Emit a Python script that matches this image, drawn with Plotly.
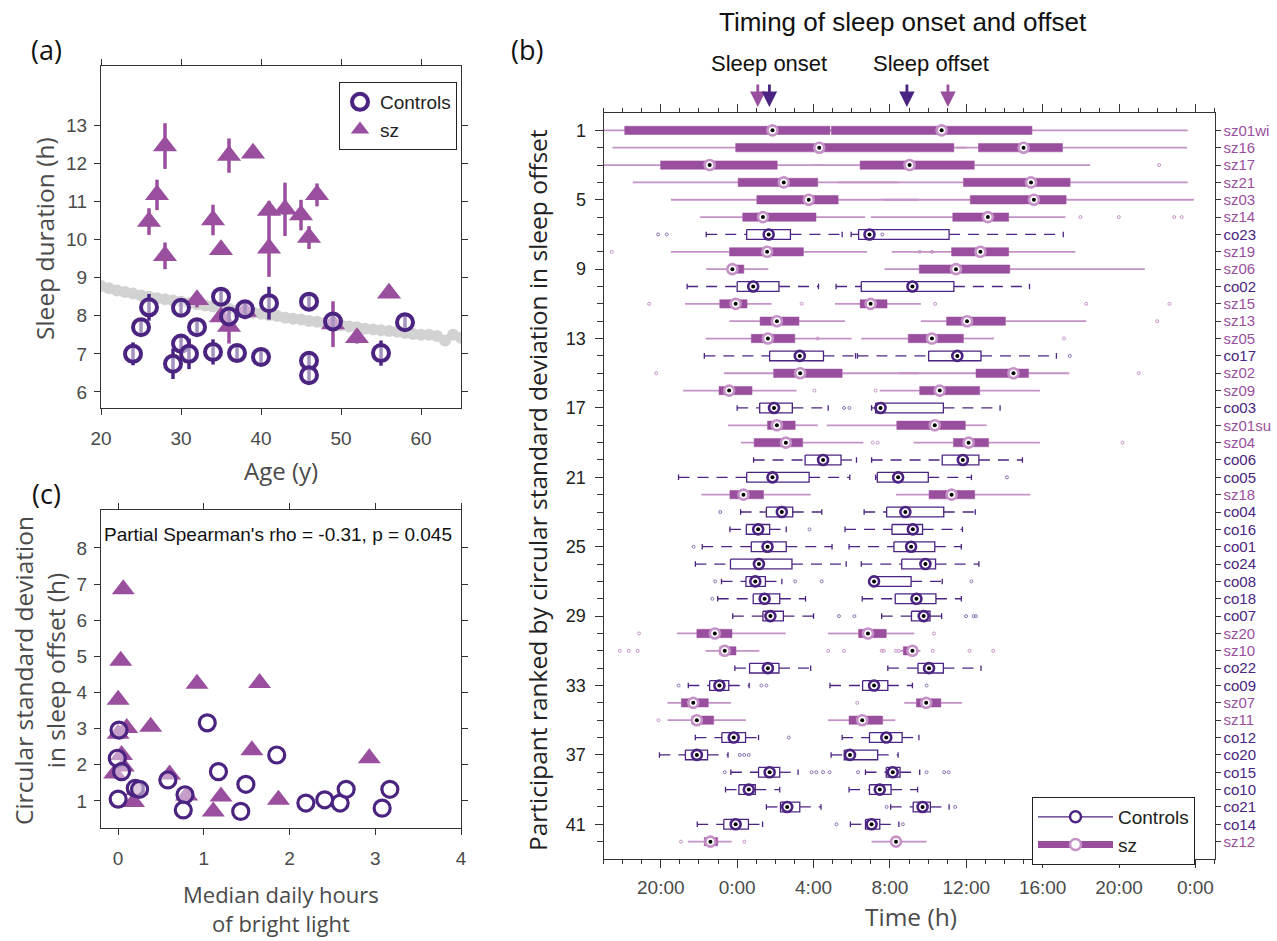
import plotly.graph_objects as go

W, H = 1277, 941
def fx(p): return p / W
def fy(p): return 1 - p / H

CO = '#4b2481'
CO_L = '#8a72b2'
SZ = '#9a4f9e'
SZ_L = '#c592c7'
GRAY = '#d2d2d2'
AX = '#333333'
TXT = '#4a4a4a'
TICKFONT = 'Liberation Sans, Arial, sans-serif'
TITLEFONT = 'Open Sans, Liberation Sans, sans-serif'

# ---------------- Panel (a): sleep duration vs age ----------------
ref_age = list(range(20, 66))
ref_sleep = [8.78, 8.72, 8.66, 8.62, 8.58, 8.53, 8.50, 8.46, 8.43, 8.40,
             8.37, 8.33, 8.30, 8.27, 8.24, 8.20, 8.18, 8.14, 8.10, 8.08,
             8.05, 8.02, 7.99, 7.95, 7.92, 7.90, 7.86, 7.84, 7.80, 7.78,
             7.75, 7.72, 7.70, 7.66, 7.64, 7.62, 7.60, 7.58, 7.55, 7.52,
             7.50, 7.50, 7.47, 7.35, 7.50, 7.42]

co_age = [24, 25, 26, 30, 29, 30, 31, 32, 34, 35, 36, 37, 38, 40, 41, 46, 46, 46, 49, 55, 58]
co_sleep = [7.00, 7.70, 8.22, 8.21, 6.74, 7.27, 7.00, 7.70, 7.05, 8.50, 7.98, 7.02, 8.17,
            6.92, 8.33, 8.37, 6.82, 6.44, 7.85, 7.02, 7.83]
co_err = [0.30, 0.20, 0.35, 0.20, 0.40, 0.25, 0.40, 0.20, 0.33, 0.25, 0.25, 0.20, 0.20,
          0.20, 0.43, 0.20, 0.25, 0.25, 0.25, 0.33, 0.20]

sz_age = [28, 27, 26, 28, 32, 34, 35, 35, 36, 39, 38, 41, 41, 43, 45, 46, 47, 49, 52, 56, 36]
sz_sleep = [12.45, 11.17, 10.47, 9.57, 8.42, 10.51, 9.73, 7.97, 12.20, 12.26, 8.11, 10.76,
            9.77, 10.79, 10.64, 10.05, 11.17, 7.78, 7.42, 8.59, 7.72]
sz_err = [0.60, 0.40, 0.35, 0.35, 0.20, 0.40, 0.10, 0.10, 0.45, 0.10, 0.20, 0.25,
          0.75, 0.70, 0.40, 0.30, 0.30, 0.60, 0.15, 0.10, 0.45]

# ---------------- Panel (c): variability vs bright light ----------------
light_co = [0.01, -0.01, 0.04, 0.00, 0.20, 0.25, 0.58, 0.78, 0.76, 1.04, 1.17, 1.49, 1.43,
            1.85, 2.19, 2.41, 2.59, 2.66, 3.08, 3.17]
sdoff_co = [2.96, 2.18, 1.81, 1.05, 1.35, 1.32, 1.58, 1.17, 0.75, 3.16, 1.81, 1.46, 0.71,
            2.27, 0.94, 1.03, 0.94, 1.32, 0.80, 1.32]
light_sz = [0.06, 0.03, 0.00, 0.10, 0.38, 0.92, 1.65, 1.56, 2.93, 0.60, 0.80, 1.20, 1.11,
            1.87, 0.18, 0.00, 0.04, -0.04, 0.22, 0.06]
sdoff_sz = [6.86, 4.88, 3.80, 3.02, 3.05, 4.24, 4.26, 2.40, 2.18, 1.73, 1.15, 1.12, 0.71,
            1.03, 0.97, 2.86, 2.27, 1.76, 1.30, 1.95]

# ---------------- Panel (b): timing box plots (hours since previous midnight) ----------------
participants = ['sz01wi', 'sz16', 'sz17', 'sz21', 'sz03', 'sz14', 'co23', 'sz19', 'sz06', 'co02',
                'sz15', 'sz13', 'sz05', 'co17', 'sz02', 'sz09', 'co03', 'sz01su', 'sz04', 'co06',
                'co05', 'sz18', 'co04', 'co16', 'co01', 'co24', 'co08', 'co18', 'co07', 'sz20',
                'sz10', 'co22', 'co09', 'sz07', 'sz11', 'co12', 'co20', 'co15', 'co10', 'co21',
                'co14', 'sz12']

# [lower whisker, q1, median, q3, upper whisker]
onset_stats = [
    [16.5, 18.11, 25.85, 28.86, 29.5], [17.47, 23.92, 28.30, 35.35, 36.0],
    [16.8, 19.99, 22.56, 26.10, 28.5], [18.54, 24.05, 26.44, 28.22, 32.5],
    [20.53, 25.03, 27.75, 29.29, 33.5], [22.06, 24.29, 25.35, 28.13, 30.7],
    [22.38, 24.50, 25.65, 26.79, 29.5], [20.53, 23.60, 25.57, 27.47, 30.8],
    [22.38, 23.52, 23.75, 24.35, 25.63], [21.38, 24.00, 24.84, 26.19, 28.26],
    [21.27, 23.09, 23.92, 24.52, 25.8], [23.60, 25.20, 26.08, 27.24, 29.65],
    [22.34, 24.74, 25.61, 27.02, 30.0], [22.28, 25.70, 27.28, 28.52, 30.2],
    [23.30, 25.91, 27.30, 29.50, 33.5], [21.17, 23.05, 23.58, 24.78, 27.11],
    [24.00, 25.18, 25.93, 26.89, 28.77], [23.52, 25.59, 26.08, 27.04, 28.22],
    [24.20, 24.89, 26.55, 27.43, 30.61], [24.86, 27.56, 28.50, 29.44, 30.25],
    [20.93, 24.50, 25.85, 27.77, 29.9], [22.13, 23.62, 24.33, 25.38, 27.85],
    [24.18, 25.53, 26.34, 26.91, 28.43], [23.62, 24.48, 25.10, 25.70, 26.57],
    [22.17, 24.74, 25.59, 26.57, 28.97], [21.81, 23.65, 25.14, 26.87, 29.71],
    [23.18, 24.46, 24.95, 25.48, 26.34], [22.98, 24.84, 25.44, 26.23, 27.58],
    [23.77, 25.35, 25.74, 26.42, 28.0], [20.85, 21.89, 22.83, 23.73, 26.55],
    [22.34, 23.09, 23.35, 23.94, 25.16], [23.88, 24.65, 25.61, 26.19, 27.85],
    [21.44, 22.56, 23.07, 23.56, 24.63], [20.35, 21.08, 21.70, 22.49, 23.67],
    [20.35, 21.63, 21.89, 22.77, 24.46], [21.81, 23.20, 23.82, 24.44, 25.12],
    [19.93, 21.29, 21.89, 22.45, 23.52], [23.67, 25.12, 25.70, 26.23, 27.19],
    [23.39, 24.09, 24.61, 24.95, 26.23], [25.53, 26.27, 26.62, 27.28, 28.39],
    [21.91, 23.30, 23.92, 24.59, 25.33], [21.42, 22.28, 22.60, 22.98, 23.71],
]
offset_stats = [
    [27.0, 28.94, 34.71, 39.44, 47.6], [35.5, 36.64, 39.00, 41.04, 47.56],
    [28.0, 30.44, 33.03, 36.42, 42.49], [29.3, 35.85, 39.39, 41.44, 47.6],
    [31.7, 36.21, 39.54, 41.23, 47.92], [31.0, 35.29, 37.13, 38.22, 41.19],
    [29.97, 30.36, 30.93, 35.10, 41.08], [32.1, 35.23, 36.74, 38.22, 41.72],
    [31.72, 33.54, 35.46, 38.28, 45.35], [29.18, 30.50, 33.18, 35.35, 39.31],
    [29.12, 30.44, 30.99, 31.85, 33.62], [33.62, 34.97, 36.04, 38.05, 42.28],
    [30.5, 32.96, 34.20, 35.85, 37.45], [30.3, 34.03, 35.53, 36.77, 40.72],
    [32.5, 36.51, 38.47, 39.26, 41.4], [31.47, 33.56, 34.61, 36.70, 39.86],
    [31.04, 31.25, 31.51, 34.80, 37.77], [28.69, 32.36, 34.35, 35.95, 37.06],
    [33.24, 35.33, 36.12, 37.17, 39.86], [31.04, 34.74, 35.82, 36.66, 38.94],
    [31.25, 31.34, 32.43, 34.01, 36.27], [32.32, 34.05, 35.23, 36.44, 39.35],
    [30.65, 31.83, 32.81, 34.82, 36.47], [29.65, 32.11, 33.20, 33.71, 35.8],
    [29.86, 32.21, 33.11, 34.35, 35.74], [30.5, 32.62, 33.86, 34.39, 36.66],
    [31.1, 31.15, 31.17, 33.11, 34.74], [30.55, 32.28, 33.39, 34.41, 35.74],
    [31.57, 33.13, 33.77, 34.10, 34.71], [28.75, 30.36, 30.85, 31.81, 33.28],
    [32.55, 32.70, 33.18, 33.40, 33.6], [31.89, 33.47, 34.05, 34.80, 36.77],
    [28.86, 30.57, 31.17, 31.89, 33.18], [32.75, 33.39, 33.90, 34.67, 35.78],
    [28.75, 29.86, 30.55, 31.62, 32.28], [29.5, 30.93, 31.81, 32.64, 33.52],
    [28.92, 29.61, 29.91, 31.36, 32.43], [30.72, 31.81, 32.15, 32.53, 33.56],
    [29.86, 30.93, 31.47, 32.06, 33.45], [32.04, 33.22, 33.71, 34.12, 35.1],
    [29.93, 30.72, 31.04, 31.47, 32.47], [31.04, 32.11, 32.32, 32.53, 33.92],
]
outliers = [
    [], [], [46.1], [], [], [41.98, 43.99, 46.89, 47.28], [19.86, 20.31, 31.6],
    [17.43, 33.56, 34.2], [], [], [19.39, 27.38, 34.37, 42.28, 46.64], [46.0],
    [28.22, 41.12], [41.42], [19.76, 45.03], [28.05, 31.25], [29.6, 29.88], [],
    [31.1, 31.36, 44.18], [], [38.13], [], [23.11], [27.79], [21.72], [],
    [22.85, 27.04, 28.43, 36.27], [22.7], [29.33, 30.14, 35.99, 36.38, 36.5],
    [18.86, 34.31],
    [17.85, 18.32, 18.79, 28.77, 29.6, 31.57, 31.68, 32.32, 32.47, 34.24, 36.17, 37.41],
    [], [20.93, 25.27, 25.53, 33.92], [30.29], [19.88], [26.7], [24.14, 24.37, 24.61],
    [23.35, 27.9, 28.15, 28.5, 28.84, 30.33, 33.92, 34.84, 35.08], [],
    [31.83, 35.42], [29.2, 32.68], [21.06, 24.37],
]
mean_hours = [25.08, 25.69, 32.89, 35.04]
mean_groups = ['sz', 'co', 'co', 'sz']
time_tickvals = [20, 24, 28, 32, 36, 40, 44, 48]
time_ticktext = ['20:00', '0:00', '4:00', '8:00', '12:00', '16:00', '20:00', '0:00']
rank_ticks = list(range(1, 42, 4))

fig = go.Figure()

# ---- panel (a) traces
fig.add_trace(go.Scatter(x=ref_age, y=ref_sleep, mode='lines+markers', xaxis='x', yaxis='y',
                         line=dict(color=GRAY, width=7), marker=dict(color=GRAY, size=12),
                         showlegend=False, hoverinfo='skip'))
fig.add_trace(go.Scatter(x=sz_age, y=sz_sleep, mode='markers', xaxis='x', yaxis='y', name='sz',
                         error_y=dict(type='data', array=sz_err, color=SZ, thickness=3.5, width=0),
                         marker=dict(symbol='triangle-up', size=21, color=SZ),
                         legend='legend', legendrank=2))
fig.add_trace(go.Scatter(x=co_age, y=co_sleep, mode='markers', xaxis='x', yaxis='y', name='Controls',
                         error_y=dict(type='data', array=co_err, color=CO, thickness=3.5, width=0),
                         marker=dict(symbol='circle', size=16, color='rgba(255,255,255,0.5)',
                                     line=dict(color=CO, width=4)),
                         legend='legend', legendrank=1))

# ---- panel (c) traces
fig.add_trace(go.Scatter(x=light_sz, y=sdoff_sz, mode='markers', xaxis='x2', yaxis='y2',
                         marker=dict(symbol='triangle-up', size=20, color=SZ), showlegend=False))
fig.add_trace(go.Scatter(x=light_co, y=sdoff_co, mode='markers', xaxis='x2', yaxis='y2',
                         marker=dict(symbol='circle', size=16, color='rgba(255,255,255,0.45)',
                                     line=dict(color=CO, width=3.2)), showlegend=False))

# ---- panel (b) traces
cb_x, cb_y, cw_x, cw_y, cc_x, cc_y = [], [], [], [], [], []
sb_x, sb_y, sw_x, sw_y = [], [], [], []
mc_x, mc_y, ms_x, ms_y = [], [], [], []
oc_x, oc_y, os_x, os_y = [], [], [], []
for i, name in enumerate(participants):
    r = i + 1
    co = name.startswith('co')
    for st in (onset_stats[i], offset_stats[i]):
        lo, q1, md, q3, hi = st
        if co:
            hh = 0.28
            cb_x += [q1, q3, q3, q1, q1, None]
            cb_y += [r - hh, r - hh, r + hh, r + hh, r - hh, None]
            cw_x += [lo, q1, None, q3, hi, None]
            cw_y += [r, r, None, r, r, None]
            cc_x += [lo, lo, None, hi, hi, None]
            cc_y += [r - 0.16, r + 0.16, None, r - 0.16, r + 0.16, None]
            mc_x.append(md); mc_y.append(r)
        else:
            hh = 0.24
            sb_x += [q1, q3, q3, q1, q1, None]
            sb_y += [r - hh, r - hh, r + hh, r + hh, r - hh, None]
            sw_x += [lo, q1, None, q3, hi, None]
            sw_y += [r, r, None, r, r, None]
            ms_x.append(md); ms_y.append(r)
    for o in outliers[i]:
        if co:
            oc_x.append(o); oc_y.append(r)
        else:
            os_x.append(o); os_y.append(r)

bx = dict(xaxis='x3', yaxis='y3', showlegend=False, hoverinfo='skip')
fig.add_trace(go.Scatter(x=sw_x, y=sw_y, mode='lines', line=dict(color=SZ_L, width=1.8), **bx))
fig.add_trace(go.Scatter(x=sb_x, y=sb_y, mode='lines', fill='toself', fillcolor=SZ,
                         line=dict(color=SZ, width=0.5), **bx))
fig.add_trace(go.Scatter(x=cw_x, y=cw_y, mode='lines', line=dict(color=CO, width=1.3, dash='11px,8px'), **bx))
fig.add_trace(go.Scatter(x=cc_x, y=cc_y, mode='lines', line=dict(color=CO, width=1.3), **bx))
fig.add_trace(go.Scatter(x=cb_x, y=cb_y, mode='lines', fill='toself', fillcolor='white',
                         line=dict(color=CO, width=1.3), **bx))
fig.add_trace(go.Scatter(x=oc_x, y=oc_y, mode='markers',
                         marker=dict(symbol='circle-open', size=3, color=CO_L, line=dict(width=1)), **bx))
fig.add_trace(go.Scatter(x=os_x, y=os_y, mode='markers',
                         marker=dict(symbol='circle-open', size=3, color=SZ_L, line=dict(width=1)), **bx))
fig.add_trace(go.Scatter(x=ms_x, y=ms_y, mode='markers',
                         marker=dict(symbol='circle', size=10, color='white', line=dict(color=SZ_L, width=2.6)), **bx))
fig.add_trace(go.Scatter(x=mc_x, y=mc_y, mode='markers',
                         marker=dict(symbol='circle', size=10, color='white', line=dict(color=CO, width=2.6)), **bx))
fig.add_trace(go.Scatter(x=mc_x + ms_x, y=mc_y + ms_y, mode='markers',
                         marker=dict(symbol='circle', size=4, color='black'), **bx))
# right-side label axis anchor trace (invisible)
fig.add_trace(go.Scatter(x=[time_tickvals[0]], y=[1], mode='markers', xaxis='x3', yaxis='y4',
                         marker=dict(opacity=0), showlegend=False, hoverinfo='skip'))
# legend entries for panel (b)
fig.add_trace(go.Scatter(x=[None], y=[None], mode='lines+markers', xaxis='x3', yaxis='y3', name='Controls',
                         line=dict(color=CO, width=1.3),
                         marker=dict(symbol='circle', size=11, color='white', line=dict(color=CO, width=2.5)),
                         legend='legend2', legendrank=1))
fig.add_trace(go.Scatter(x=[None], y=[None], mode='lines+markers', xaxis='x3', yaxis='y3', name='sz',
                         line=dict(color=SZ, width=7),
                         marker=dict(symbol='circle', size=11, color='white', line=dict(color=SZ_L, width=2.5)),
                         legend='legend2', legendrank=2))

# ---- axes
base = dict(showline=True, linecolor=AX, linewidth=1, ticks='outside', tickcolor=AX, showgrid=False,
            zeroline=False, tickfont=dict(family=TICKFONT, size=19, color=TXT))
rank_colors = [(CO if n.startswith('co') else SZ) for n in participants]
right_text = ['<span style="color:%s">%s</span>' % (c, n) for c, n in zip(rank_colors, participants)]

fig.update_layout(
    width=W, height=H, margin=dict(l=0, r=0, t=0, b=0),
    paper_bgcolor='white', plot_bgcolor='white', template='none',
    xaxis=dict(domain=[fx(101), fx(461)], range=[20, 65], tickvals=[20, 30, 40, 50, 60],
               anchor='y', mirror='ticks', ticklen=6, ticklabelstandoff=7, **base),
    yaxis=dict(domain=[fy(408), fy(66)], range=[5.58, 14.55], tickvals=list(range(6, 14)),
               anchor='x', mirror='ticks', ticklen=6, ticklabelstandoff=3, **base),
    xaxis2=dict(domain=[fx(101), fx(461)], range=[-0.2, 4], tickvals=[0, 1, 2, 3, 4],
                anchor='y2', mirror='ticks', ticklen=6, ticklabelstandoff=7, **base),
    yaxis2=dict(domain=[fy(828), fy(510)], range=[0.25, 9.05], tickvals=list(range(1, 9)),
                anchor='x2', mirror='ticks', ticklen=6, ticklabelstandoff=3, **base),
    xaxis3=dict(domain=[fx(603.5), fx(1214.5)], range=[17, 49], tickvals=time_tickvals,
                ticktext=time_ticktext, anchor='y3', mirror='ticks', ticklen=8, ticklabelstandoff=3,
                minor=dict(tickvals=list(range(17, 50)), ticklen=4, ticks='outside', tickcolor=AX),
                **base),
    yaxis3=dict(domain=[fy(859), fy(113)], range=[43, 0], tickvals=rank_ticks, anchor='x3',
                ticklen=8, ticklabelstandoff=5,
                minor=dict(tickvals=list(range(1, 43)), ticklen=6, ticks='outside', tickcolor=AX),
                **{**base, 'tickfont': dict(family=TICKFONT, size=18, color='#222')}),
    yaxis4=dict(overlaying='y3', side='right', anchor='x3', range=[43, 0],
                tickvals=list(range(1, 43)), ticktext=right_text,
                **{**base, 'ticklen': 5, 'tickfont': dict(family=TICKFONT, size=15, color=TXT)}),
    legend=dict(x=fx(339), y=fy(82), xanchor='left', yanchor='top', bgcolor='white',
                bordercolor='#222', borderwidth=1, font=dict(family=TICKFONT, size=19, color='#222'),
                tracegroupgap=0, itemwidth=30),
    legend2=dict(x=fx(1032), y=fy(797), xanchor='left', yanchor='top', bgcolor='white',
                 bordercolor='#222', borderwidth=1, font=dict(family=TICKFONT, size=19, color='#222'),
                 tracegroupgap=0, itemwidth=75),
)

ann = []
def text(x, y, s, size, color=TXT, family=TITLEFONT, angle=0):
    ann.append(dict(x=fx(x), y=fy(y), xref='paper', yref='paper', text=s, showarrow=False,
                    xanchor='center', yanchor='middle', textangle=angle,
                    font=dict(family=family, size=size, color=color)))

text(47, 49, '(a)', 27, '#111')
text(527, 49, '(b)', 27, '#111')
text(47, 494, '(c)', 27, '#111')
text(44, 239, 'Sleep duration (h)', 24.5, angle=-90)
text(281, 470, 'Age (y)', 24)
text(39, 671, 'Circular standard deviation<br>in sleep offset (h)', 24.5, angle=-90)
text(281, 908, 'Median daily hours<br>of bright light', 22)
text(278, 534, "Partial Spearman's rho = -0.31, p = 0.045", 19, '#111', TICKFONT)
text(537, 490, 'Participant ranked by circular standard deviation in sleep offset', 24.5, '#222', angle=-90)
text(911, 916, 'Time (h)', 24.5)
text(903, 22, 'Timing of sleep onset and offset', 26, '#111', TICKFONT)
text(769, 64, 'Sleep onset', 22, '#111', TICKFONT)
text(931, 64, 'Sleep offset', 22, '#111', TICKFONT)

for h, g in zip(mean_hours, mean_groups):
    ann.append(dict(x=h, y=fy(107), xref='x3', yref='paper', text='', showarrow=True,
                    ax=0, ay=-24, arrowhead=2, arrowsize=1.1, arrowwidth=2.8,
                    arrowcolor=(CO if g == 'co' else SZ)))
fig.update_layout(annotations=ann)

fig.write_html('out.html')
